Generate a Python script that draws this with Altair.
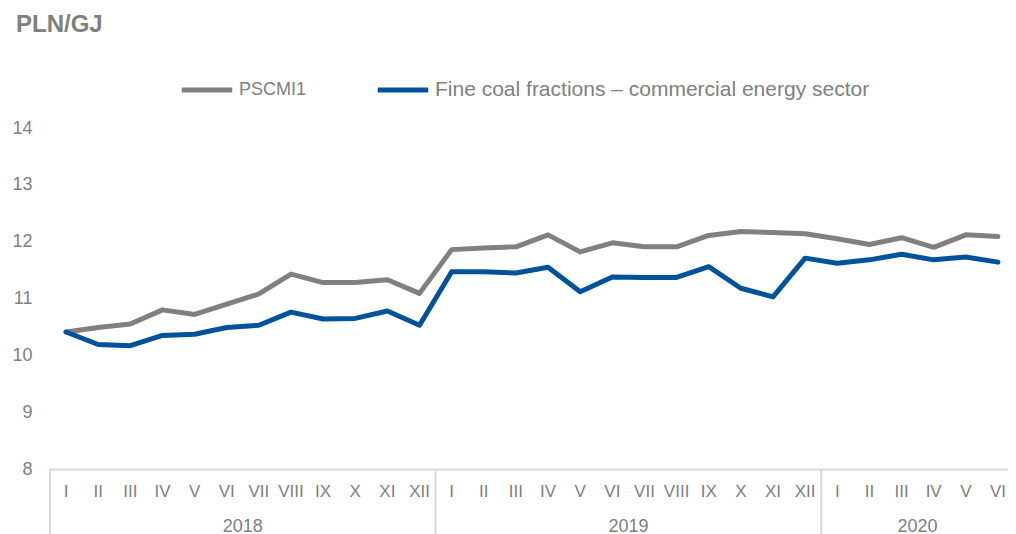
import altair as alt
import pandas as pd

months = ["I", "II", "III", "IV", "V", "VI", "VII", "VIII", "IX", "X", "XI", "XII"] * 2 + ["I", "II", "III", "IV", "V", "VI"]
years = ["2018", "2019", "2020"]
year_lengths = [12, 12, 6]
series_names = ["PSCMI1", "Fine coal fractions – commercial energy sector"]
pscmi = [10.41, 10.49, 10.55, 10.80, 10.72, 10.90, 11.08, 11.43, 11.28, 11.28, 11.33, 11.09,
         11.86, 11.89, 11.91, 12.12, 11.82, 11.98, 11.91, 11.91, 12.11, 12.18, 12.16, 12.14,
         12.05, 11.95, 12.07, 11.90, 12.12, 12.09]
fine = [10.41, 10.19, 10.17, 10.35, 10.37, 10.49, 10.53, 10.76, 10.64, 10.65, 10.78, 10.53,
        11.47, 11.47, 11.45, 11.55, 11.12, 11.38, 11.37, 11.37, 11.56, 11.18, 11.03, 11.71,
        11.62, 11.68, 11.78, 11.68, 11.73, 11.64]
y_ticks = [8, 9, 10, 11, 12, 13, 14]

W, H = 958, 341
RANGE_W = 964
GRAY = "#808080"
BLUE = "#00539b"
LIGHT = "#d9d9d9"
FONT = "Liberation Sans"

n = len(months)
rows = []
for i in range(n):
    rows.append({"pos": i + 0.5, "value": pscmi[i], "series": series_names[0], "order": 0})
    rows.append({"pos": i + 0.5, "value": fine[i], "series": series_names[1], "order": 1})
df = pd.DataFrame(rows)

month_df = pd.DataFrame({"pos": [i + 0.5 for i in range(n)], "label": months})

starts = []
acc = 0
for L in year_lengths:
    starts.append(acc)
    acc += L
year_df = pd.DataFrame({"mid": [s + L / 2 for s, L in zip(starts, year_lengths)], "year": years})
sep_df = pd.DataFrame({"pos": starts + [acc]})

xscale = alt.Scale(domain=[0, n], range=[0, RANGE_W], nice=False, zero=False)
yscale = alt.Scale(domain=[8, 14], nice=False, zero=False)

lines = alt.Chart(df).mark_line(strokeWidth=5, strokeCap="round", strokeJoin="round").encode(
    x=alt.X("pos:Q", scale=xscale,
            axis=alt.Axis(labels=False, ticks=False, grid=False, domain=True,
                          domainColor=LIGHT, domainWidth=2, title=None)),
    y=alt.Y("value:Q", scale=yscale,
            axis=alt.Axis(values=y_ticks, grid=False, domain=False, ticks=False,
                          labelFontSize=18, labelColor=GRAY, labelFont=FONT,
                          labelPadding=18, title=None)),
    color=alt.Color("series:N",
                    scale=alt.Scale(domain=series_names, range=[GRAY, BLUE]),
                    legend=alt.Legend(orient="none", legendX=129, legendY=-66,
                                      direction="horizontal", title=None,
                                      symbolType="stroke", symbolSize=2550,
                                      symbolStrokeWidth=5,
                                      labelFontSize={"expr": "datum.label == 'PSCMI1' ? 18 : 21"},
                                      labelFont=FONT, labelColor=GRAY,
                                      labelOffset=4, columnPadding=60,
                                      labelLimit=0)),
    order="order:Q",
)

month_labels = alt.Chart(month_df).mark_text(
    fontSize=17, font=FONT, color=GRAY, baseline="alphabetic", align="center"
).encode(x=alt.X("pos:Q", scale=xscale), y=alt.value(H + 28), text="label:N")

year_labels = alt.Chart(year_df).mark_text(
    fontSize=18, font=FONT, color=GRAY, baseline="alphabetic", align="center"
).encode(x=alt.X("mid:Q", scale=xscale), y=alt.value(H + 63), text="year:N")

seps = alt.Chart(sep_df).mark_rule(color=LIGHT, strokeWidth=2).encode(
    x=alt.X("pos:Q", scale=xscale), y=alt.value(H), y2=alt.value(H + 75)
)

title = alt.Chart(pd.DataFrame({"t": ["PLN/GJ"]})).mark_text(
    fontSize=24, fontWeight="bold", font=FONT, color=GRAY, align="left", baseline="alphabetic"
).encode(x=alt.value(-34), y=alt.value(-96), text="t:N")

chart = alt.layer(seps, lines, month_labels, year_labels, title).properties(
    width=W, height=H,
    background="white",
    autosize=alt.AutoSizeParams(type="none"),
    padding={"left": 42, "top": 120, "right": 0, "bottom": 66},
).configure_view(stroke="transparent", strokeWidth=0)

chart.save("out.html", embed_options={"renderer": "svg", "actions": False})
